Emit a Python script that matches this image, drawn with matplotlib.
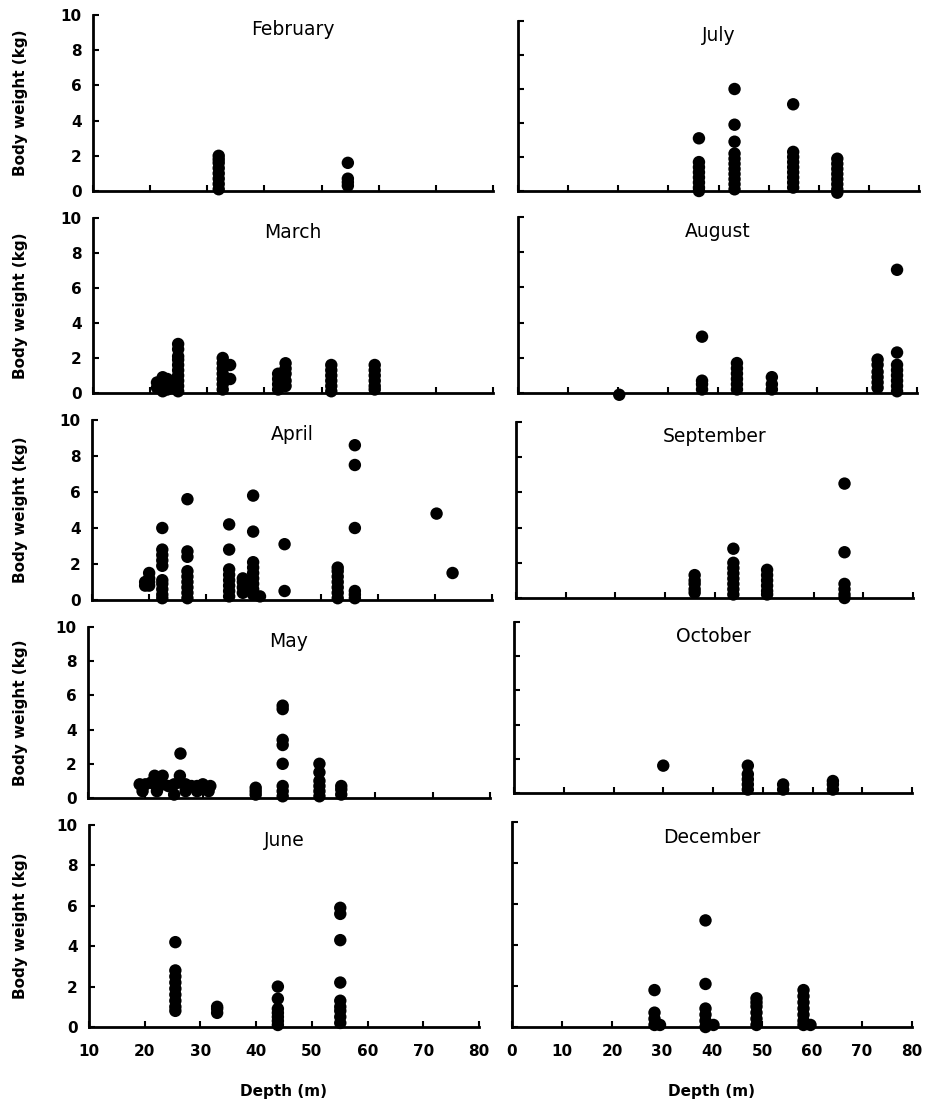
import matplotlib.pyplot as plt

# Month panels: depth (m) and body weight (kg)
feb_depth = [32, 32, 32, 32, 32, 32, 32, 32, 54.6, 54.6, 54.6, 54.6]
feb_weight = [2.0, 1.8, 1.6, 1.3, 1.0, 0.7, 0.4, 0.1, 1.6, 0.7, 0.5, 0.3]

mar_depth = [21.2, 21.2, 22.2, 22.2, 22.2, 22.2, 22.2, 23.0, 23.0, 23.0,
             24.9, 24.9, 24.9, 24.9, 24.9, 24.9, 24.9, 24.9, 24.9, 24.9,
             32.7, 32.7, 32.7, 32.7, 32.7, 32.7, 32.7, 34.0, 34.0,
             42.4, 42.4, 42.4, 42.4, 43.7, 43.7, 43.7, 43.7, 43.7,
             51.7, 51.7, 51.7, 51.7, 51.7, 51.7,
             59.3, 59.3, 59.3, 59.3, 59.3, 59.3]
mar_weight = [0.6, 0.3, 0.9, 0.7, 0.5, 0.3, 0.1, 0.8, 0.5, 0.2,
              2.8, 2.5, 2.1, 1.9, 1.6, 1.3, 1.0, 0.7, 0.4, 0.1,
              2.0, 1.7, 1.4, 1.1, 0.8, 0.5, 0.2, 1.6, 0.8,
              1.1, 0.8, 0.5, 0.2, 1.7, 1.4, 1.1, 0.7, 0.4,
              1.6, 1.3, 1.0, 0.7, 0.4, 0.1,
              1.6, 1.3, 1.0, 0.7, 0.4, 0.2]

apr_depth = [19.3, 19.3, 20.0, 20.0, 20.0, 20.0,
             22.3, 22.3, 22.3, 22.3, 22.3, 22.3, 22.3, 22.3, 22.3, 22.3,
             26.7, 26.7, 26.7, 26.7, 26.7, 26.7, 26.7, 26.7, 26.7,
             34.0, 34.0, 34.0, 34.0, 34.0, 34.0, 34.0, 34.0,
             36.4, 36.4, 36.4, 36.4,
             38.2, 38.2, 38.2, 38.2, 38.2, 38.2, 38.2, 38.2, 38.2, 39.4,
             43.7, 43.7,
             53.0, 53.0, 53.0, 53.0, 53.0, 53.0, 53.0,
             56.0, 56.0, 56.0, 56.0, 56.0, 56.0,
             70.3, 73.1]
apr_weight = [1.0, 0.8, 1.5, 1.2, 1.0, 0.8,
              4.0, 2.8, 2.5, 2.2, 1.9, 1.1, 0.9, 0.6, 0.3, 0.1,
              5.6, 2.7, 2.4, 1.6, 1.3, 1.0, 0.7, 0.4, 0.1,
              4.2, 2.8, 1.7, 1.4, 1.1, 0.8, 0.5, 0.2,
              1.2, 1.0, 0.7, 0.4,
              5.8, 3.8, 2.1, 1.8, 1.5, 1.2, 0.9, 0.6, 0.3, 0.2,
              3.1, 0.5,
              1.8, 1.6, 1.3, 1.0, 0.7, 0.4, 0.1,
              8.6, 7.5, 4.0, 0.5, 0.3, 0.1,
              4.8, 1.5]

may_depth = [19.0, 20.0, 21.0, 21.6, 22.0, 23.0, 24.0, 25.0, 26.0, 27.0,
             28.0, 29.0, 30.0, 31.3, 21.6, 23.0, 26.0, 26.1,
             19.5, 22.0, 25.0, 27.0, 29.0, 31.0,
             39.2, 39.2, 39.2,
             43.9, 43.9, 43.9, 43.9, 43.9, 43.9, 43.9, 43.9,
             50.3, 50.3, 50.3, 50.3, 50.3, 50.3,
             54.1, 54.1, 54.1]
may_weight = [0.8, 0.8, 0.9, 0.8, 0.9, 0.8, 0.7, 0.8, 0.9, 0.8,
              0.7, 0.7, 0.8, 0.7, 1.3, 1.3, 1.3, 2.6,
              0.4, 0.4, 0.2, 0.4, 0.4, 0.4,
              0.6, 0.4, 0.2,
              5.4, 5.2, 3.4, 3.1, 2.0, 0.7, 0.4, 0.1,
              2.0, 1.5, 1.0, 0.7, 0.4, 0.1,
              0.7, 0.5, 0.2]

jun_depth = [25.5, 25.5, 25.5, 25.5, 25.5, 25.5, 25.5, 25.5, 25.5,
             33.0, 33.0, 33.0,
             43.9, 43.9, 43.9, 43.9, 43.9, 43.9, 43.9,
             55.1, 55.1, 55.1, 55.1, 55.1, 55.1, 55.1, 55.1, 55.1]
jun_weight = [4.2, 2.8, 2.5, 2.2, 1.9, 1.6, 1.3, 1.0, 0.8,
              1.0, 0.9, 0.7,
              2.0, 1.4, 0.9, 0.7, 0.5, 0.3, 0.1,
              5.9, 5.6, 4.3, 2.2, 1.3, 1.0, 0.8, 0.5, 0.2]

jul_depth = [36.1, 36.1, 36.1, 36.1, 36.1, 36.1, 36.1, 36.1,
             43.2, 43.2, 43.2, 43.2, 43.2, 43.2, 43.2, 43.2, 43.2, 43.2, 43.2,
             54.9, 54.9, 54.9, 54.9, 54.9, 54.9, 54.9, 54.9, 54.9,
             63.7, 63.7, 63.7, 63.7, 63.7, 63.7, 63.7, 63.7]
jul_weight = [3.1, 1.7, 1.4, 1.1, 0.8, 0.5, 0.2, 0.0,
              6.0, 3.9, 2.9, 2.2, 1.9, 1.6, 1.3, 1.0, 0.7, 0.4, 0.1,
              5.1, 2.3, 2.0, 1.7, 1.4, 1.1, 0.8, 0.5, 0.2,
              1.9, 1.6, 1.3, 1.0, 0.7, 0.4, 0.1, -0.1]

aug_depth = [20.3,
             36.9, 36.9, 36.9, 36.9,
             43.9, 43.9, 43.9, 43.9, 43.9, 43.9,
             50.9, 50.9, 50.9,
             72.1, 72.1, 72.1, 72.1, 72.1, 72.1,
             76.0, 76.0, 76.0, 76.0, 76.0, 76.0, 76.0, 76.0]
aug_weight = [-0.1,
              3.2, 0.7, 0.5, 0.2,
              1.7, 1.4, 1.1, 0.8, 0.5, 0.2,
              0.9, 0.5, 0.2,
              1.9, 1.6, 1.2, 0.9, 0.6, 0.3,
              7.0, 2.3, 1.6, 1.3, 1.0, 0.7, 0.4, 0.1]

sep_depth = [36.0, 36.0, 36.0, 36.0, 36.0,
             43.8, 43.8, 43.8, 43.8, 43.8, 43.8, 43.8, 43.8,
             50.6, 50.6, 50.6, 50.6, 50.6, 50.6,
             66.2, 66.2, 66.2, 66.2, 66.2, 66.2]
sep_weight = [1.3, 1.0, 0.8, 0.5, 0.3,
              2.8, 2.0, 1.7, 1.4, 1.1, 0.8, 0.5, 0.2,
              1.6, 1.3, 1.0, 0.7, 0.4, 0.2,
              6.5, 2.6, 0.8, 0.5, 0.2, 0.0]

oct_depth = [30.0, 47.0, 47.0, 47.0, 47.0, 47.0, 54.1, 54.1, 64.1, 64.1, 64.1]
oct_weight = [1.6, 1.6, 1.1, 0.8, 0.5, 0.2, 0.5, 0.2, 0.7, 0.5, 0.2]

dec_depth = [28.5, 28.5, 28.5, 28.5, 29.6,
             38.7, 38.7, 38.7, 38.7, 38.7, 38.7, 40.3,
             48.9, 48.9, 48.9, 48.9, 48.9, 48.9,
             58.3, 58.3, 58.3, 58.3, 58.3, 58.3, 58.3, 59.7]
dec_weight = [1.8, 0.7, 0.4, 0.1, 0.1,
              5.2, 2.1, 0.9, 0.6, 0.3, 0.0, 0.1,
              1.4, 1.2, 1.0, 0.7, 0.4, 0.1,
              1.8, 1.5, 1.2, 0.9, 0.6, 0.3, 0.1, 0.1]

months = ['February', 'March', 'April', 'May', 'June',
          'July', 'August', 'September', 'October', 'December']
depths = [feb_depth, mar_depth, apr_depth, may_depth, jun_depth,
          jul_depth, aug_depth, sep_depth, oct_depth, dec_depth]
weights = [feb_weight, mar_weight, apr_weight, may_weight, jun_weight,
           jul_weight, aug_weight, sep_weight, oct_weight, dec_weight]

left_ticks = [10, 20, 30, 40, 50, 60, 70, 80]
right_ticks = [0, 10, 20, 30, 40, 50, 60, 70, 80]
y_ticks = [0, 2, 4, 6, 8, 10]

# panel boxes in pixels: left, right, top, bottom
W, H = 927, 1101
boxes = [(93, 493, 15, 191), (93, 493, 218, 393), (92, 492, 420, 600),
         (88, 490, 627, 798), (89, 479, 825, 1027),
         (518, 919, 21, 191), (518, 917, 217, 393), (516, 913, 422, 598),
         (514, 912, 622, 793), (512, 912, 822, 1027)]

fig = plt.figure(figsize=(W / 100, H / 100), dpi=100)

for i in range(10):
    l, r, t, b = boxes[i]
    ax = fig.add_axes([l / W, 1 - b / H, (r - l) / W, (b - t) / H])
    ax.scatter(depths[i], weights[i], s=80, color='black', edgecolors='none',
               clip_on=False, zorder=3)

    left_col = i < 5
    ax.set_xlim(10 if left_col else 0, 80)
    ax.set_ylim(0, 10)
    ax.set_xticks(left_ticks if left_col else right_ticks)
    ax.set_yticks(y_ticks)

    for side in ['top', 'right']:
        ax.spines[side].set_visible(False)
    for side in ['left', 'bottom']:
        ax.spines[side].set_linewidth(2)

    ax.tick_params(direction='in', length=4, width=1.5)
    ax.tick_params(axis='x', pad=12)
    ax.tick_params(axis='y', pad=8)
    for lab in ax.get_xticklabels() + ax.get_yticklabels():
        lab.set_fontweight('bold')
        lab.set_fontsize(11)

    if not left_col:
        ax.set_yticklabels([])
    if i not in (4, 9):
        ax.set_xticklabels([])
    else:
        ax.set_xlabel('Depth (m)', fontsize=11, fontweight='bold', labelpad=18)

    ax.text(0.5, 0.97, months[i], transform=ax.transAxes, ha='center', va='top',
            fontsize=13.5)

    if left_col:
        fig.text(21 / W, 1 - (t + b) / 2 / H, 'Body weight (kg)', rotation=90,
                 ha='center', va='center', fontsize=11, fontweight='bold')

fig.savefig('out.png', dpi=100)
